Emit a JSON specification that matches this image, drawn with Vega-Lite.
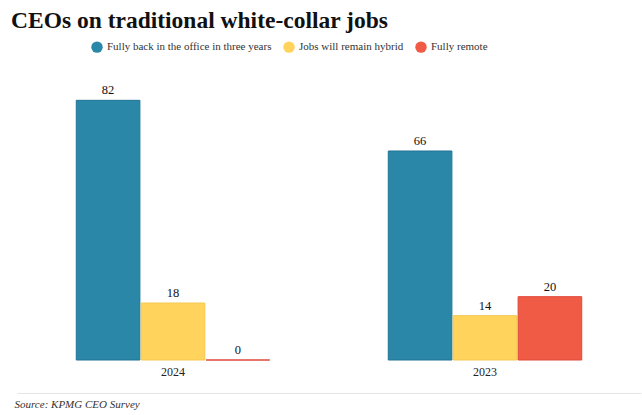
{
  "$schema": "https://vega.github.io/schema/vega-lite/v6.json",
  "autosize": {"type": "none"},
  "width": 624,
  "height": 285,
  "padding": {"left": 17, "right": 1, "top": 75, "bottom": 55},
  "background": "white",
  "title": {
    "text": "CEOs on traditional white-collar jobs",
    "anchor": "start",
    "font": "Liberation Serif",
    "fontSize": 23.5,
    "fontWeight": "bold",
    "color": "#111111",
    "dx": -3,
    "offset": 9
  },
  "config": {"view": {"stroke": null}},
  "layer": [
    {
      "data": {
        "values": [
          {"year": "2024", "category": "Fully back in the office in three years", "value": 82},
          {"year": "2024", "category": "Jobs will remain hybrid", "value": 18},
          {"year": "2024", "category": "Fully remote", "value": 0},
          {"year": "2023", "category": "Fully back in the office in three years", "value": 66},
          {"year": "2023", "category": "Jobs will remain hybrid", "value": 14},
          {"year": "2023", "category": "Fully remote", "value": 20}
        ]
      },
      "encoding": {
        "x": {
          "field": "year", "type": "nominal", "sort": ["2024", "2023"],
          "scale": {"paddingInner": 0.38, "paddingOuter": 0.19},
          "axis": {"title": null, "ticks": false, "domain": false, "labelAngle": 0, "labelFont": "Liberation Serif", "labelFontSize": 12, "labelColor": "#222222", "labelPadding": 6}
        },
        "xOffset": {
          "field": "category", "type": "nominal",
          "sort": ["Fully back in the office in three years", "Jobs will remain hybrid", "Fully remote"],
          "scale": {"paddingInner": 0.02}
        },
        "y": {"field": "value", "type": "quantitative", "scale": {"domain": [0, 90], "nice": false}, "axis": null}
      },
      "layer": [
        {
          "mark": {"type": "bar", "strokeWidth": 1},
          "encoding": {
            "color": {
              "field": "category", "type": "nominal",
              "sort": ["Fully back in the office in three years", "Jobs will remain hybrid", "Fully remote"],
              "scale": {
                "domain": ["Fully back in the office in three years", "Jobs will remain hybrid", "Fully remote"],
                "range": ["#2b87a8", "#ffd35c", "#f05b46"]
              },
              "legend": {
                "title": null, "orient": "none", "direction": "horizontal",
                "legendX": 74, "legendY": -34,
                "symbolType": "circle", "symbolSize": 130, "symbolOpacity": 1, "symbolStrokeWidth": 0,
                "labelFont": "Liberation Serif", "labelFontSize": 11, "labelColor": "#333333", "labelLimit": 400,
                "columnPadding": 11, "symbolOffset": 0
              }
            },
            "stroke": {
              "field": "category", "type": "nominal",
              "scale": {
                "domain": ["Fully back in the office in three years", "Jobs will remain hybrid", "Fully remote"],
                "range": ["#1f7396", "#f5c84f", "#e0483a"]
              },
              "legend": null
            }
          }
        },
        {
          "mark": {"type": "text", "baseline": "bottom", "dy": -3, "font": "Liberation Serif", "fontSize": 12.5, "color": "#111111"},
          "encoding": {"text": {"field": "value", "type": "quantitative"}}
        },
        {
          "mark": {"type": "rule", "color": "#e8e8e8", "strokeWidth": 1},
          "encoding": {"y": {"datum": 0}}
        }
      ]
    },
    {
      "data": {"values": [{"s": 0}]},
      "mark": {"type": "rule", "opacity": 0},
      "encoding": {
        "x": {
          "field": "s", "type": "quantitative",
          "axis": {
            "orient": "bottom", "offset": 33, "domainColor": "#e5e5e5", "domainWidth": 1,
            "labels": false, "ticks": false, "grid": false,
            "title": "Source: KPMG CEO Survey", "titleAnchor": "start", "titleX": -3,
            "titleFont": "Liberation Serif", "titleFontStyle": "italic", "titleFontWeight": "normal",
            "titleFontSize": 11, "titleColor": "#333333", "titlePadding": 5
          }
        }
      }
    }
  ],
  "resolve": {"scale": {"x": "independent"}, "axis": {"x": "independent"}}
}
